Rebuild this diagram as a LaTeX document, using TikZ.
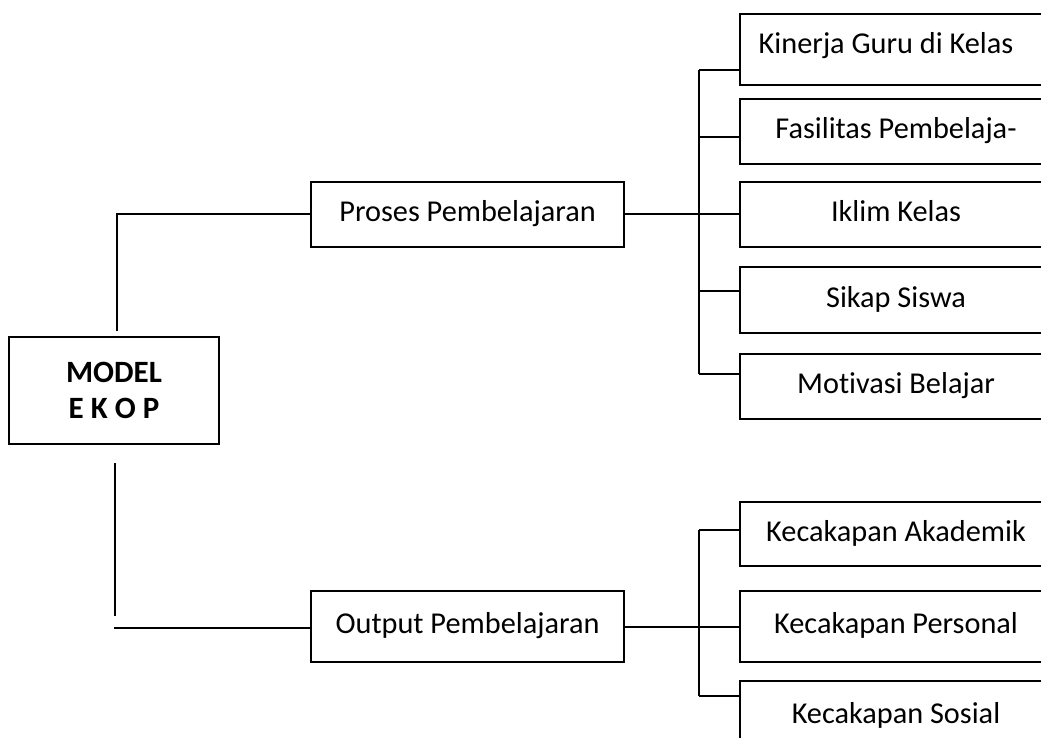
\documentclass[tikz,border=0pt]{standalone}
\usepackage{fontspec}
\setmainfont{Carlito}[Ligatures=NoCommon]
\begin{document}
\begin{tikzpicture}[x=1pt,y=-1pt,
  line width=2pt,
  box/.style={draw, rectangle, inner sep=0pt, font=\fontsize{30.3}{34}\selectfont, text height=20pt, text depth=6pt},
  mainbox/.style={draw, rectangle, inner sep=0pt, align=center, font=\bfseries\fontsize{31}{36}\selectfont},
  conn/.style={line width=2pt}]
\clip (0,0) rectangle (1041,738);
\fill[white] (0,0) rectangle (1041,738);
% main box
\node[mainbox, minimum width=210pt, minimum height=107pt] (M) at (114,390.5) {MODEL\\E K O P};
% middle boxes
\node[box, minimum width=313pt, minimum height=65pt] (P) at (467.5,214.5) {Proses Pembelajaran};
\node[box, minimum width=313pt, minimum height=71pt] (O) at (467.5,626.5) {Output Pembelajaran};
% right boxes (cut off by the page edge)
\node[box, minimum width=312pt, minimum height=71pt, text depth=12pt] (B1) at (896,49.5) {Kinerja Guru di Kelas\hspace*{20pt}};
\node[box, minimum width=312pt, minimum height=65pt] (B2) at (896,131.5) {Fasilitas Pembelaja-};
\node[box, minimum width=312pt, minimum height=65pt] (B3) at (896,214.5) {Iklim Kelas};
\node[box, minimum width=312pt, minimum height=66pt] (B4) at (896,300) {Sikap Siswa};
\node[box, minimum width=312pt, minimum height=65pt] (B5) at (896,386.5) {Motivasi Belajar};
\node[box, minimum width=312pt, minimum height=64pt] (K1) at (896,534) {Kecakapan Akademik};
\node[box, minimum width=312pt, minimum height=71pt] (K2) at (896,626.5) {Kecakapan Personal};
\node[box, minimum width=312pt, minimum height=70pt] (K3) at (896,716) {Kecakapan Sosial};
% left connectors
\coordinate (t1) at (117,331);
\draw[conn] (t1) |- (P.west);
\coordinate (b1) at (115,463);
\coordinate (b2) at (115,616);
\draw[conn] (b1) -- (b2);
\coordinate (b3) at (114,628);
\draw[conn] (b3) -- (b3 -| O.west);
% upper bus
\coordinate (u1) at (699,70);
\coordinate (u2) at (699,137);
\coordinate (u3) at (699,214.5);
\coordinate (u4) at (699,291);
\coordinate (u5) at (699,374);
\draw[conn] (P.east) -- (u3);
\draw[conn] (u1) -- (u5);
\draw[conn] (u1) -- (u1 -| B1.west);
\draw[conn] (u2) -- (u2 -| B2.west);
\draw[conn] (u3) -- (u3 -| B3.west);
\draw[conn] (u4) -- (u4 -| B4.west);
\draw[conn] (u5) -- (u5 -| B5.west);
% lower bus
\coordinate (l1) at (699,530);
\coordinate (l2) at (699,626.5);
\coordinate (l3) at (699,696);
\draw[conn] (O.east) -- (l2);
\draw[conn] (l1) -- (l3);
\draw[conn] (l1) -- (l1 -| K1.west);
\draw[conn] (l2) -- (l2 -| K2.west);
\draw[conn] (l3) -- (l3 -| K3.west);
\end{tikzpicture}
\end{document}
